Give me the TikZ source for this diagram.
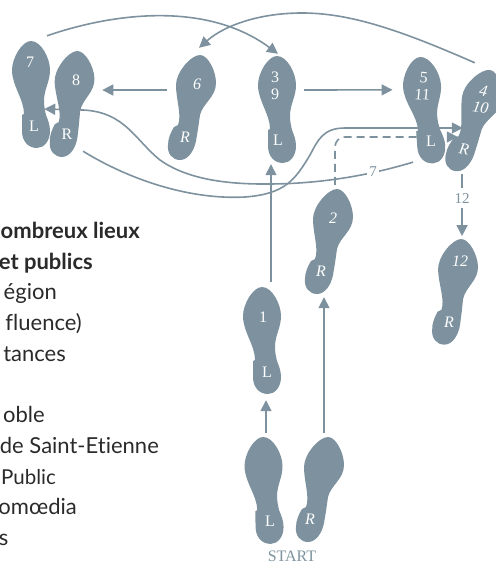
\documentclass[tikz,border=0pt]{standalone}
\usepackage{fontspec}
\setmainfont{Liberation Serif}
\newfontfamily\listfont[Ligatures=NoCommon]{Lato}
\usetikzlibrary{positioning, arrows.meta}
\definecolor{footgray}{HTML}{7D929E}
\definecolor{listink}{HTML}{2A2A2A}
\tikzstyle{footbox} = [minimum width=38pt, minimum height=107pt, inner sep=0pt]
\tikzstyle{footboxr} = [minimum width=48pt, minimum height=105pt, inner sep=0pt]
\tikzstyle{footnum} = [text=white, font=\fontsize{16}{17}\selectfont, align=center, inner sep=0pt]
\tikzstyle{footnumr} = [footnum, font=\fontsize{16}{17}\selectfont\itshape]
\tikzstyle{steplabel} = [fill=white, text=footgray, font=\fontsize{15}{16}\selectfont, inner sep=2pt]
\tikzstyle{myarrow} = [draw=footgray, line width=1.6pt, -{Triangle[length=11pt, width=11pt]}]
\tikzstyle{mycurve} = [draw=footgray, line width=1.4pt]
\tikzstyle{listline} = [anchor=base east, text=listink, inner sep=0pt, font=\listfont\fontsize{22}{24}\selectfont]
\tikzstyle{listbold} = [listline, font=\listfont\fontsize{22}{24}\selectfont\bfseries]
\tikzset{
	footl/.pic={
		\fill[footgray] (0,0) .. controls (10,0) and (19,17) .. (19,29)
			.. controls (19,41) and (13,48) .. (13,60)
			.. controls (13,65) and (14,70) .. (15,74)
			.. controls (17,79) and (19,84) .. (19,90)
			.. controls (19,100) and (13,107) .. (6,107)
			.. controls (-3,107) and (-9,100) .. (-9,90)
			-- (-9,74) -- (-7,73)
			.. controls (-7,58) and (-19,45) .. (-19,29)
			.. controls (-19,17) and (-9,0) .. (0,0) -- cycle;
		\node[footbox] (-foot) at (0,53.5) {};
	},
	footr/.pic={
		\fill[footgray] (0,0) .. controls (8,0) and (16,16) .. (16,28)
			.. controls (16,42) and (3,48) .. (0,60)
			-- (-2,74) -- (-4,86)
			.. controls (-6,96) and (-12,105) .. (-20,105)
			.. controls (-28,105) and (-33,98) .. (-32,90)
			.. controls (-32,83) and (-29,77) .. (-26,72)
			-- (-22,70)
			.. controls (-18,60) and (-24,45) .. (-24,30)
			.. controls (-24,17) and (-9,0) .. (0,0) -- cycle;
		\node[footboxr] (-foot) at (-8,52.5) {};
	}
}

\begin{document}
\begin{tikzpicture}[x=1pt, y=-1pt, >=Stealth]
		\useasboundingbox (0,0) rectangle (495,564);
		
		% text on the left
		\node[listbold] (line1) at (140,238) {ombreux lieux};
		\node[listbold] (line2) at (93,269) {et publics};
		\node[listline] (line3) at (57,299) {égion};
		\node[listline] (line4) at (82,330) {fluence)};
		\node[listline] (line5) at (66,361) {tances};
		\node[listline] (line6) at (45,422) {oble};
		\node[listline] (line7) at (159,453) {de Saint-Etienne};
		\node[listline, font=\listfont\fontsize{20.5}{24}\selectfont] (line8) at (56,484) {Public};
		\node[listline] (line9) at (77,514) {omœdia};
		\node[listline] (line10) at (8.5,545) {s};
		
		% feet
		\pic[rotate=1] (startl) at (263,437) {footl};
		\pic (startr) at (328,437) {footr};
		\pic (one) at (262,287) {footl};
		\pic (two) at (337,189) {footr};
		\pic (three) at (277,56) {footl};
		\pic[rotate=-8] (four) at (490,70) {footr};
		\pic[rotate=4] (five) at (420,57) {footl};
		\pic (six) at (200,55) {footr};
		\pic (seven) at (31,41) {footl};
		\pic[rotate=3] (eight) at (77,51) {footr};
		\pic[rotate=2] (twelve) at (461,239) {footr};
		
		% straight connections
		\draw[myarrow] ([shift={(2.1pt,4pt)}]startl-foot.north) -- ([shift={(4pt,-6pt)}]one-foot.south);
		\draw[myarrow] ([shift={(4pt,4pt)}]startr-foot.north) -- ([shift={(-5pt,-3pt)}]two-foot.south);
		\draw[myarrow] ([shift={(9pt,5pt)}]one-foot.north) -- ([shift={(-6pt,-1pt)}]three-foot.south);
		\draw[myarrow] ([shift={(8pt,19.5pt)}]three-foot.east) -- ([shift={(-12pt,20.5pt)}]five-foot.west);
		\draw[myarrow] ([shift={(-1pt,17.5pt)}]six-foot.west) -- ([shift={(6.3pt,13.8pt)}]eight-foot.east);
		\draw[myarrow] ([shift={(-12.8pt,-0.6pt)}]four-foot.south) -- ([shift={(7.2pt,3pt)}]twelve-foot.north) node[steplabel, pos=0.39, inner sep=5pt] (label12) {12};
		
		% curved connections
		\draw[mycurve, myarrow] ([shift={(16pt,5pt)}]seven-foot.north) .. controls (110,14) and (205,0) .. ([shift={(1pt,2pt)}]three-foot.north);
		\draw[mycurve, myarrow] ([shift={(0pt,5.4pt)}]four-foot.north) .. controls (400,30) and (350,13) .. (302,13) .. controls (260,13) and (225,25) .. ([shift={(7pt,7pt)}]six-foot.north);
		\draw[mycurve, myarrow] ([shift={(-10.7pt,1.9pt)}]five-foot.south) .. controls (380,172) and (340,181) .. (290,183.5) .. controls (250,185) and (195,185) .. (160,160) .. controls (135,140) and (125,112) .. (83,110) -- ([shift={(-6pt,-14.5pt)}]seven-foot.east);
		\draw[mycurve, myarrow] ([shift={(11.3pt,5.3pt)}]eight-foot.south) .. controls (130,180) and (190,200) .. (245,197) .. controls (285,194) and (295,180) .. (310,155) .. controls (318,140) and (323,128) .. (345,128) -- ([shift={(12.2pt,-7.1pt)}]four-foot.west);
		\draw[mycurve, myarrow, dash pattern=on 8pt off 5pt, rounded corners=10pt] ([shift={(6pt,4pt)}]two-foot.north) |- ([shift={(7.2pt,-16.1pt)}]four-foot.west);
		\node[steplabel] (label7) at (373,172) {7};
		
		% labels on the feet
		\node[footnum] (startllabel) at (270,521) {L};
		\node[footnumr] (startrlabel) at (310,519) {R};
		\node[footnum] (onenum) at (263,317) {1};
		\node[footnum] (onelabel) at (267,372) {L};
		\node[footnumr] (twonum) at (333,218) {2};
		\node[footnumr] (twolabel) at (321,271) {R};
		\node[footnum] (threenum) at (275,86) {3\\9};
		\node[footnum] (threelabel) at (278,140) {L};
		\node[footnumr, rotate=-10] (fournum) at (482,99) {4\\10};
		\node[footnumr, rotate=-10] (fourlabel) at (464,149) {R};
		\node[footnum, rotate=-5] (fivenum) at (423,86) {5\\11};
		\node[footnum] (fivelabel) at (431,141) {L};
		\node[footnumr] (sixnum) at (197,84) {6};
		\node[footnumr] (sixlabel) at (185,137) {R};
		\node[footnum] (sevennum) at (30,62) {7};
		\node[footnum] (sevenlabel) at (34,126) {L};
		\node[footnum] (eightnum) at (76,80) {8};
		\node[footnum] (eightlabel) at (67,134) {R};
		\node[footnumr] (twelvenum) at (460,261) {12};
		\node[footnumr] (twelvelabel) at (449,322) {R};
		\node[text=footgray, inner sep=0pt, font=\fontsize{16}{17}\selectfont] (start) at (292,556.5) {START};
		
	\end{tikzpicture}
\end{document}
